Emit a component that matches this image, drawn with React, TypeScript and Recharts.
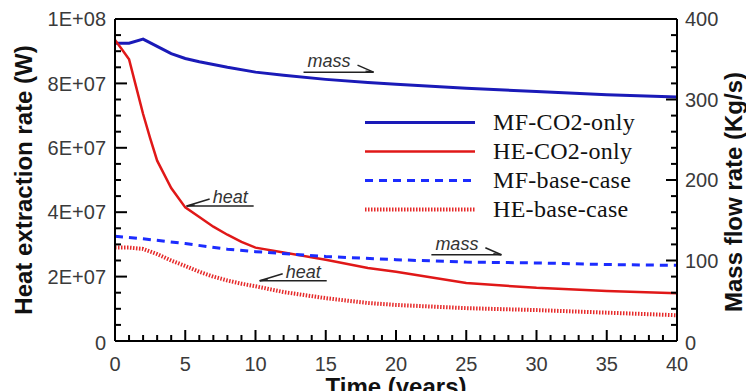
import React from 'react';
import { LineChart, Line, XAxis, YAxis, ReferenceLine, ReferenceDot, Label } from 'recharts';

// MF = mass flow (kg/s, right axis), HE = heat extraction (W, left axis)
const mfCo2Years = [0, 1, 2, 3, 4, 5, 6, 8, 10, 12, 15, 18, 20, 25, 30, 35, 40];
const mfCo2Values = [370, 370, 375, 366, 357, 351, 347, 340, 334, 330, 325, 321, 319, 314, 310, 306, 303];

const heCo2Years = [0, 0.5, 1, 1.5, 2, 2.5, 3, 4, 5, 6, 7, 8, 9, 10, 12, 15, 18, 20, 25, 30, 35, 40];
const heCo2Values = [
  9.35e7, 9.05e7, 8.75e7, 7.9e7, 7.05e7, 6.3e7, 5.6e7, 4.75e7, 4.15e7, 3.85e7, 3.55e7, 3.3e7, 3.08e7,
  2.9e7, 2.75e7, 2.52e7, 2.27e7, 2.15e7, 1.8e7, 1.65e7, 1.55e7, 1.48e7,
];

const mfBaseYears = [0, 2, 5, 8, 10, 15, 20, 25, 30, 35, 40];
const mfBaseValues = [130, 127, 121, 114, 111, 105, 101, 98, 97, 95, 94];

const heBaseYears = [0, 1, 2, 3, 4, 5, 6, 7, 8, 9, 10, 12, 15, 18, 20, 25, 30, 35, 40];
const heBaseValues = [
  2.9e7, 2.9e7, 2.86e7, 2.7e7, 2.5e7, 2.33e7, 2.15e7, 2.0e7, 1.88e7, 1.78e7, 1.7e7, 1.52e7, 1.33e7,
  1.18e7, 1.12e7, 1.02e7, 0.96e7, 0.88e7, 0.8e7,
];

const xMajorTicks = [0, 5, 10, 15, 20, 25, 30, 35, 40];
const leftMajorTicks = [0, 2e7, 4e7, 6e7, 8e7, 1e8];
const leftTickLabels = ['0', '2E+07', '4E+07', '6E+07', '8E+07', '1E+08'];
const rightMajorTicks = [0, 100, 200, 300, 400];
const rightTickLabels = ['0', '100', '200', '300', '400'];

// minor ticks: every year, every 5E+06 W, every 20 kg/s
const xTicks = Array.from({ length: 41 }, (_, i) => i);
const leftTicks = Array.from({ length: 21 }, (_, i) => i * 5e6);
const rightTicks = Array.from({ length: 21 }, (_, i) => i * 20);

const toRows = (years: number[], values: number[]) => years.map((t, i) => ({ t, v: values[i] }));

const series = [
  { name: 'MF-CO2-only', data: toRows(mfCo2Years, mfCo2Values), axis: 'right', color: '#1a1ab8', width: 3, dash: undefined },
  { name: 'HE-CO2-only', data: toRows(heCo2Years, heCo2Values), axis: 'left', color: '#e01818', width: 2.5, dash: undefined },
  { name: 'MF-base-case', data: toRows(mfBaseYears, mfBaseValues), axis: 'right', color: '#1c2cff', width: 3, dash: '8 6' },
  { name: 'HE-base-case', data: toRows(heBaseYears, heBaseValues), axis: 'left', color: '#e62a2a', width: 4, dash: '1.5 1.5' },
];

// arrow tip positions (years, W on left axis)
const notes = [
  { text: 'mass', t: 18.4, v: 8.35e7, dir: 'right' },
  { text: 'heat', t: 5.1, v: 4.19e7, dir: 'left' },
  { text: 'mass', t: 27.5, v: 2.68e7, dir: 'right' },
  { text: 'heat', t: 10.3, v: 1.87e7, dir: 'left' },
];

const tickColor = '#3a3a3a';
const sans = 'Arial, "Liberation Sans", sans-serif';

const XTick = ({ x, y, payload }: any) => {
  const idx = xMajorTicks.indexOf(payload.value);
  const major = idx >= 0;
  return (
    <g>
      <line x1={x} x2={x} y1={y} y2={y - (major ? 11 : 6)} stroke="#000" strokeWidth={2} />
      {major && (
        <text x={x} y={y + 30} textAnchor="middle" fontSize={20} fill={tickColor} fontFamily={sans}>
          {payload.value}
        </text>
      )}
    </g>
  );
};

const LeftTick = ({ x, y, payload }: any) => {
  const idx = leftMajorTicks.indexOf(payload.value);
  const major = idx >= 0;
  return (
    <g>
      <line x1={x} x2={x + (major ? 12 : 6)} y1={y} y2={y} stroke="#000" strokeWidth={2} />
      {major && (
        <text x={x - 9} y={y + (idx === 0 ? 2 : 0)} dy="0.36em" textAnchor="end" fontSize={20} fill={tickColor} fontFamily={sans}>
          {leftTickLabels[idx]}
        </text>
      )}
    </g>
  );
};

const RightTick = ({ x, y, payload }: any) => {
  const idx = rightMajorTicks.indexOf(payload.value);
  const major = idx >= 0;
  return (
    <g>
      <line x1={x} x2={x - (major ? 11 : 6)} y1={y} y2={y} stroke="#000" strokeWidth={2} />
      {major && (
        <text x={x + 8} y={y + (idx === 0 ? 2 : 0)} dy="0.36em" textAnchor="start" fontSize={20} fill={tickColor} fontFamily={sans}>
          {rightTickLabels[idx]}
        </text>
      )}
    </g>
  );
};

const NoteShape = (text: string, dir: string) => (props: any) => {
  const { cx, cy } = props;
  if (dir === 'left') {
    return (
      <g stroke="#222" fill="none">
        <line x1={cx} x2={cx + 67} y1={cy} y2={cy} strokeWidth={1.5} />
        <line x1={cx + 23} x2={cx} y1={cy - 7} y2={cy} strokeWidth={1.5} />
        <line x1={cx + 8} x2={cx} y1={cy - 1} y2={cy} strokeWidth={1.5} />
        <text x={cx + 26} y={cy - 3} fontSize={18} fontStyle="italic" fill="#333" stroke="none" fontFamily={sans}>
          {text}
        </text>
      </g>
    );
  }
  return (
    <g stroke="#222" fill="none">
      <line x1={cx - 70} x2={cx} y1={cy} y2={cy} strokeWidth={1.5} />
      <line x1={cx - 16} x2={cx} y1={cy - 7} y2={cy} strokeWidth={1.5} />
      <line x1={cx - 8} x2={cx} y1={cy - 1} y2={cy} strokeWidth={1.5} />
      <text x={cx - 66} y={cy - 5} fontSize={18} fontStyle="italic" fill="#333" stroke="none" fontFamily={sans}>
        {text}
      </text>
    </g>
  );
};

const LegendBox = () => (
  <div style={{ position: 'absolute', left: 365, top: 108, fontFamily: '"Liberation Serif", "Times New Roman", serif' }}>
    {series.map((s) => (
      <div key={s.name} style={{ display: 'flex', alignItems: 'center', height: 29 }}>
        <svg width={110} height={29} style={{ display: 'block' }}>
          <line x1={0} x2={110} y1={14.5} y2={14.5} stroke={s.color} strokeWidth={s.width} strokeDasharray={s.dash} />
        </svg>
        <span style={{ marginLeft: 18, fontSize: 24, color: '#111', lineHeight: '29px', whiteSpace: 'nowrap', letterSpacing: 0.3 }}>
          {s.name}
        </span>
      </div>
    ))}
  </div>
);

const titleStyle = { fontSize: 24, fontWeight: 700, fill: '#111', fontFamily: sans };

export default function App() {
  return (
    <div style={{ position: 'absolute', left: 0, top: 0, width: 746, height: 391, background: '#fff', overflow: 'hidden' }}>
      <LineChart width={746} height={391} margin={{ top: 19, right: 0, bottom: 0, left: 0 }}>
        <XAxis
          dataKey="t"
          type="number"
          domain={[0, 40]}
          ticks={xTicks}
          interval={0}
          height={50}
          tickSize={0}
          tickMargin={0}
          tickLine={false}
          axisLine={{ stroke: '#000', strokeWidth: 2 }}
          tick={<XTick />}
        >
          <Label
            content={({ viewBox }: any) => (
              <text x={viewBox.x + viewBox.width / 2} y={viewBox.y + 54} textAnchor="middle" style={titleStyle}>
                Time (years)
              </text>
            )}
          />
        </XAxis>
        <YAxis
          yAxisId="left"
          type="number"
          domain={[0, 1e8]}
          ticks={leftTicks}
          interval={0}
          width={115}
          tickSize={0}
          tickMargin={0}
          tickLine={false}
          axisLine={{ stroke: '#000', strokeWidth: 2 }}
          tick={<LeftTick />}
        >
          <Label
            content={({ viewBox }: any) => {
              const cx = viewBox.x + 23;
              const cy = viewBox.y + viewBox.height / 2;
              return (
                <text x={cx} y={cy} transform={`rotate(-90 ${cx} ${cy})`} textAnchor="middle" dominantBaseline="central" style={titleStyle}>
                  Heat extraction rate (W)
                </text>
              );
            }}
          />
        </YAxis>
        <YAxis
          yAxisId="right"
          orientation="right"
          type="number"
          domain={[0, 400]}
          ticks={rightTicks}
          interval={0}
          width={69}
          tickSize={0}
          tickMargin={0}
          tickLine={false}
          axisLine={{ stroke: '#000', strokeWidth: 2 }}
          tick={<RightTick />}
        >
          <Label
            content={({ viewBox }: any) => {
              const cx = viewBox.x + 56;
              const cy = viewBox.y + viewBox.height / 2 + 12;
              return (
                <text x={cx} y={cy} transform={`rotate(-90 ${cx} ${cy})`} textAnchor="middle" dominantBaseline="central" style={titleStyle}>
                  Mass flow rate (Kg/s)
                </text>
              );
            }}
          />
        </YAxis>
        <ReferenceLine yAxisId="left" y={1e8} stroke="#000" strokeWidth={2} />
        {series.map((s) => (
          <Line
            key={s.name}
            data={s.data}
            dataKey="v"
            name={s.name}
            yAxisId={s.axis}
            type="linear"
            stroke={s.color}
            strokeWidth={s.width}
            strokeDasharray={s.dash}
            dot={false}
            activeDot={false}
            isAnimationActive={false}
          />
        ))}
        {notes.map((n, i) => (
          <ReferenceDot key={i} yAxisId="left" x={n.t} y={n.v} r={0} shape={NoteShape(n.text, n.dir)} />
        ))}
      </LineChart>
      <LegendBox />
    </div>
  );
}
